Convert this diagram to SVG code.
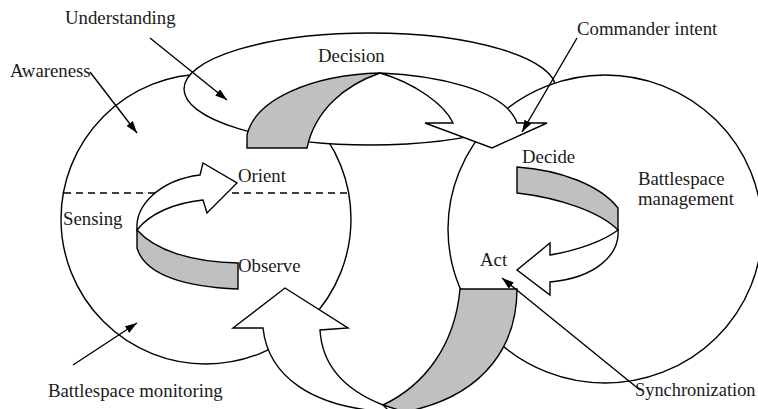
<svg xmlns="http://www.w3.org/2000/svg" width="758" height="409" viewBox="0 0 758 409">
  <defs>
    <marker id="head" viewBox="0 0 12 8" refX="12" refY="4" markerWidth="12" markerHeight="8" markerUnits="userSpaceOnUse" orient="auto">
      <path d="M0,0 L12,4 L0,8 Z" fill="#000"/>
    </marker>
    <style>
      .ring { fill: #fff; stroke: #000; stroke-width: 1.4; }
      .band { fill: #c0c0c0; stroke: #000; stroke-width: 1.4; stroke-linejoin: miter; }
      .face { fill: #fff; stroke: #000; stroke-width: 1.4; stroke-linejoin: miter; }
      .dash { fill: none; stroke: #000; stroke-width: 1.4; stroke-dasharray: 7 5; }
      .lead { fill: none; stroke: #000; stroke-width: 1.4; marker-end: url(#head); }
      text { font-family: "Liberation Serif", "Times New Roman", serif; font-size: 18.8px; fill: #1a1a1a; }
      .edge { font-size: 18.4px; }
    </style>
  </defs>

  <rect width="758" height="409" fill="#fff"/>

  <!-- three domains -->
  <g id="awareness-domain">
    <circle class="ring" cx="206" cy="219" r="145"/>
  </g>
  <g id="understanding-domain">
    <ellipse class="ring" cx="370" cy="89" rx="186" ry="56"/>
  </g>
  <g id="management-domain">
    <ellipse class="ring" cx="605" cy="229" rx="157" ry="154"/>
  </g>

  <!-- sensing boundary -->
  <g id="sensing-line">
    <line class="dash" x1="64" y1="193" x2="348" y2="193"/>
  </g>

  <!-- loop arrows -->
  <g id="connectors">
    <!-- top: decision ribbon -->
    <g id="decision-arrow">
      <path class="band" d="M247,148 L247,135 C255,100 310,75 380,73 C345,85 315,110 307,148 Z"/>
      <path class="face" d="M380,73 C430,75 505,88 517,123 L547,123 L492,148 L425,123 L453,123 C445,105 415,83 380,73 Z"/>
    </g>
    <!-- bottom: synchronization ribbon -->
    <g id="return-arrow">
      <path class="band" d="M460,289 L517,289 C517,340 490,395 405,412 L383,405 C425,385 455,345 460,289 Z"/>
      <path class="face" d="M263,328 C268,375 310,408 390,412 L383,405 C345,390 322,365 320,330 L348,328 L285,288 L233,328 Z"/>
    </g>
    <!-- observe to orient -->
    <g id="observe-orient">
      <path class="band" d="M137,230 L137,248 C145,275 185,287 238,289 L238,263 C190,262 155,250 137,230 Z"/>
      <path class="face" d="M137,230 C135,205 160,180 200,175 L203,163 L237,183 L207,213 L203,200 C175,203 150,213 137,230 Z"/>
    </g>
    <!-- decide to act -->
    <g id="decide-act">
      <path class="band" d="M517,167 C560,170 600,185 618,208 L618,230 C600,212 560,198 517,193 Z"/>
      <path class="face" d="M618,230 C620,255 595,278 550,282 L550,295 L517,270 L550,243 L550,255 C580,250 605,240 618,230 Z"/>
    </g>
    <!-- label pointers -->
    <line class="lead" x1="150" y1="38" x2="227" y2="100"/>
    <line class="lead" x1="90" y1="72" x2="137" y2="133"/>
    <line class="lead" x1="577" y1="38" x2="522" y2="132"/>
    <line class="lead" x1="73" y1="365" x2="137" y2="323"/>
    <line class="lead" x1="640" y1="390" x2="502" y2="278"/>
  </g>

  <!-- labels -->
  <g id="labels">
    <text x="65" y="24">Understanding</text>
    <text x="10" y="77">Awareness</text>
    <text x="318" y="62">Decision</text>
    <text x="577" y="35">Commander intent</text>
    <text x="238" y="182">Orient</text>
    <text x="63" y="225">Sensing</text>
    <text x="238" y="272">Observe</text>
    <text x="48" y="397">Battlespace monitoring</text>
    <text x="522" y="163">Decide</text>
    <text x="638" y="185">Battlespace</text>
    <text x="638" y="205">management</text>
    <text x="480" y="266">Act</text>
    <text class="edge" x="635" y="396">Synchronization</text>
  </g>
</svg>
